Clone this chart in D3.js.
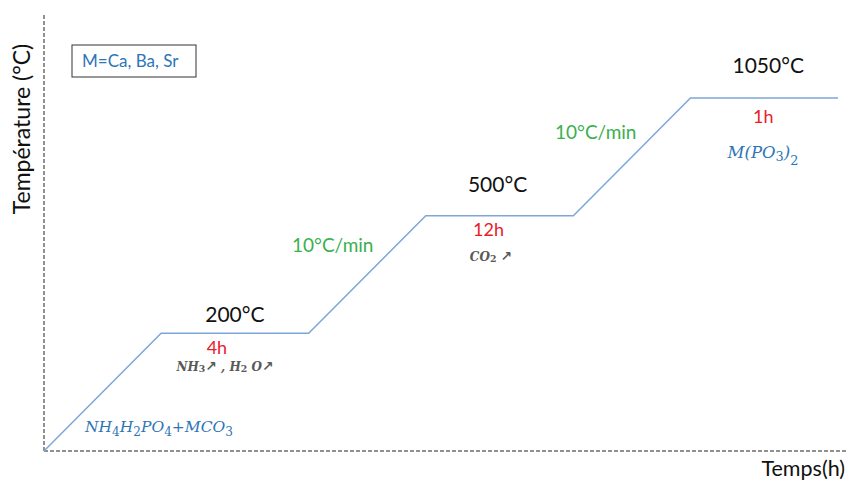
<!DOCTYPE html>
<html><head><meta charset="utf-8">
<script src="https://cdn.jsdelivr.net/npm/d3@7"></script>
<style>body{margin:0;background:#fff}svg{display:block}</style>
</head><body>
<script>
// Schematic heating profile: time (arbitrary units, ramp=1) and temperature step level
const profileTime = [0, 1, 2.26, 3.26, 4.52, 5.52, 6.78];
const profileLevel = [0, 1, 1, 2, 2, 3, 3];
const stepTemps = ["200°C", "500°C", "1050°C"];
const stepDurations = ["4h", "12h", "1h"];
const rampRates = ["10°C/min", "10°C/min"];

const W = 850, H = 480;
const svg = d3.select("body").append("svg").attr("width", W).attr("height", H);
const x = d3.scaleLinear().domain([0, 6.78]).range([44, 838]);
const y = d3.scaleLinear().domain([0, 3]).range([451, 98]);
const font = "Lato, 'Open Sans', sans-serif";
const mathFont = "'DejaVu Serif', serif";
const blue = "#2E75B6", red = "#E8202A", green = "#3BB04F", gray = "#595959";

// axes (dashed)
svg.append("line").attr("x1", x(0)).attr("x2", x(0)).attr("y1", 15).attr("y2", y(0))
  .attr("stroke", "#222").attr("stroke-width", 1).attr("stroke-dasharray", "4,2");
svg.append("line").attr("x1", x(0)).attr("x2", 846).attr("y1", y(0)).attr("y2", y(0))
  .attr("stroke", "#222").attr("stroke-width", 1).attr("stroke-dasharray", "4,2");

// profile line
const pts = profileTime.map((t, i) => [t, profileLevel[i]]);
svg.append("path").datum(pts)
  .attr("d", d3.line().x(d => x(d[0])).y(d => y(d[1])))
  .attr("fill", "none").attr("stroke", "#7EA6D8").attr("stroke-width", 1.5);

// axis titles
svg.append("text").attr("transform", `translate(30,${129}) rotate(-90)`)
  .attr("text-anchor", "middle").attr("font-family", font).attr("font-size", 23)
  .attr("fill", "#111").text("Température (°C)");
svg.append("text").attr("x", 845).attr("y", 476).attr("text-anchor", "end")
  .attr("font-family", font).attr("font-size", 21.5).attr("fill", "#111").text("Temps(h)");

// legend box
svg.append("rect").attr("x", 72).attr("y", 45).attr("width", 124).attr("height", 32)
  .attr("fill", "none").attr("stroke", "#333").attr("stroke-width", 1);
svg.append("text").attr("x", 82).attr("y", 67).attr("font-family", font).attr("font-size", 17)
  .attr("fill", blue).text("M=Ca, Ba, Sr");

// plateau labels
const plateaus = [[1, 2.26], [3.26, 4.52], [5.52, 6.78]];
const tempDx = [0, -2, 4], tempDy = [-11, -24, -25];
const durDx = [-18, -11, -1], durDy = [21, 20, 25];
plateaus.forEach((p, i) => {
  const mid = (x(p[0]) + x(p[1])) / 2;
  const yy = y(i + 1);
  svg.append("text").attr("x", mid + tempDx[i]).attr("y", yy + tempDy[i])
    .attr("text-anchor", "middle").attr("font-family", font).attr("font-size", 21)
    .attr("fill", "#111").text(stepTemps[i]);
  svg.append("text").attr("x", mid + durDx[i]).attr("y", yy + durDy[i])
    .attr("text-anchor", "middle").attr("font-family", font).attr("font-size", 18)
    .attr("fill", red).text(stepDurations[i]);
});

// ramp labels
const rampLabelPos = [[292, 252], [555, 139]];
rampRates.forEach((t, i) => {
  svg.append("text").attr("x", rampLabelPos[i][0]).attr("y", rampLabelPos[i][1])
    .attr("font-family", font).attr("font-size", 19).attr("fill", green).text(t);
});

// chemistry labels with subscripts; parts: string, {t, sub} or {arrow}
function chem(xp, yp, parts, opts) {
  const t = svg.append("text").attr("x", xp).attr("y", yp)
    .attr("text-anchor", opts.anchor || "start")
    .attr("font-family", mathFont).attr("font-style", "italic")
    .attr("font-weight", opts.weight || "normal")
    .attr("font-size", opts.size).attr("fill", opts.color);
  let shift = 0;
  parts.forEach(p => {
    let target = 0, txt = p;
    if (typeof p !== "string") { target = p.arrow ? 0 : Math.round(p.sub * opts.size); txt = p.t; }
    const sp = t.append("tspan").attr("dy", target - shift).text(txt);
    if (typeof p !== "string" && !p.arrow) sp.attr("font-size", opts.size * 0.78).attr("font-style", "normal");
    if (typeof p !== "string" && p.arrow) sp.attr("font-family", "'DejaVu Sans', sans-serif").attr("font-style", "normal").attr("font-weight", "bold").attr("font-size", opts.size * 1.15);
    shift = target;
  });
  return t;
}
chem(x(0) + 41, y(0) - 19, ["NH", {t: "4", sub: 0.25}, "H", {t: "2", sub: 0.25}, "PO", {t: "4", sub: 0.25}, "+MCO", {t: "3", sub: 0.25}],
  {size: 15.5, color: blue});
chem(225, y(1) + 38, ["NH", {t: "3", sub: 0.12}, {t: "↗", arrow: true}, " , H", {t: "2", sub: 0.12}, " O", {t: "↗", arrow: true}],
  {size: 12, color: gray, weight: "bold", anchor: "middle"});
chem(491, y(2) + 45, ["CO", {t: "2", sub: 0.12}, " ", {t: "↗", arrow: true}],
  {size: 12, color: gray, weight: "bold", anchor: "middle"});
chem(763, y(3) + 60, ["M(PO", {t: "3", sub: 0.18}, ")", {t: "2", sub: 0.4}],
  {size: 16.5, color: blue, anchor: "middle"});
</script>
</body></html>
